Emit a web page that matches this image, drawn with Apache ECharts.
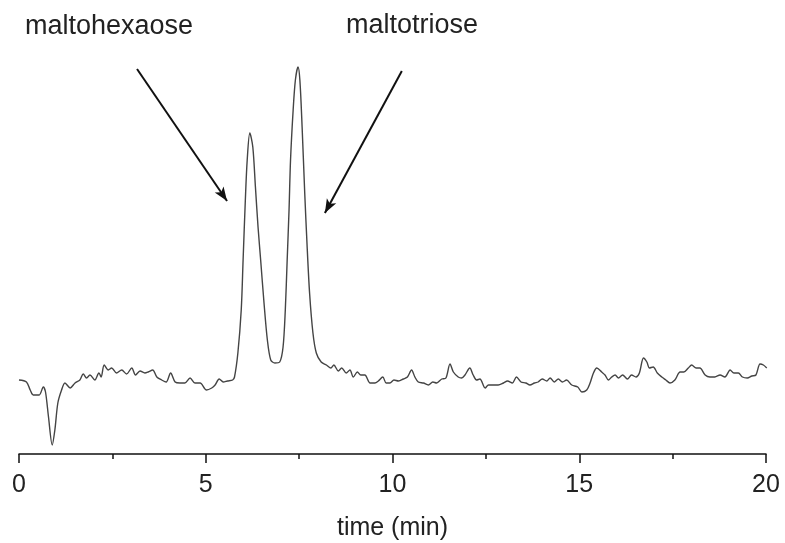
<!DOCTYPE html>
<html>
<head>
<meta charset="utf-8">
<script src="https://cdn.jsdelivr.net/npm/echarts@6/dist/echarts.min.js"></script>
<style>
  html, body { margin: 0; padding: 0; background: #fff; }
  #main { width: 785px; height: 543px; }
</style>
</head>
<body>
<div id="main"></div>
<script>
// retention time (min) and detector signal (arbitrary units)
var times = [
  0, 0.2, 0.3, 0.38, 0.54, 0.65, 0.71, 0.79, 0.89, 0.96, 1.04, 1.14, 1.23, 1.37, 1.5, 1.63,
  1.72, 1.81, 1.9, 2.03, 2.14, 2.2, 2.28, 2.39, 2.48, 2.61, 2.75, 2.88, 3.02, 3.12, 3.24, 3.37,
  3.46, 3.58, 3.69, 3.82, 3.94, 4.06, 4.18, 4.31, 4.44, 4.58, 4.71, 4.85, 5.02, 5.16, 5.25, 5.36,
  5.47, 5.58, 5.72, 5.77, 5.86, 5.95, 6.0, 6.06, 6.11, 6.18, 6.26, 6.33, 6.4, 6.47, 6.56, 6.65,
  6.74, 6.85, 6.98, 7.07, 7.13, 7.18, 7.23, 7.27, 7.34, 7.4, 7.47, 7.52, 7.58, 7.65, 7.71, 7.78,
  7.87, 7.96, 8.09, 8.23, 8.35, 8.43, 8.55, 8.64, 8.76, 8.86, 8.95, 9.06, 9.15, 9.26, 9.4, 9.53,
  9.62, 9.74, 9.83, 9.93, 10.04, 10.16, 10.29, 10.4, 10.51, 10.6, 10.69, 10.83, 10.96, 11.08, 11.18, 11.32,
  11.43, 11.54, 11.63, 11.76, 11.85, 11.94, 12.07, 12.16, 12.25, 12.34, 12.48, 12.57, 12.7, 12.83, 12.97, 13.08,
  13.21, 13.32, 13.44, 13.57, 13.68, 13.8, 13.9, 14.01, 14.13, 14.22, 14.33, 14.44, 14.55, 14.66, 14.8, 14.96,
  15.07, 15.2, 15.29, 15.38, 15.47, 15.6, 15.69, 15.78, 15.87, 15.96, 16.05, 16.16, 16.29, 16.4, 16.52, 16.61,
  16.72, 16.81, 16.88, 16.98, 17.09, 17.21, 17.32, 17.43, 17.56, 17.7, 17.8, 17.92, 18.01, 18.13, 18.23, 18.37,
  18.5, 18.63, 18.77, 18.9, 19.04, 19.14, 19.26, 19.37, 19.5, 19.62, 19.73, 19.84, 19.93, 20.02
];
var signal = [
  74, 72, 64, 59, 59, 67, 62, 37, 9, 24, 51, 64, 71, 66, 71, 74,
  80, 76, 79, 74, 81, 77, 89, 84, 86, 81, 84, 80, 86, 79, 83, 81,
  82, 84, 77, 74, 72, 81, 72, 71, 71, 76, 71, 71, 64, 66, 69, 75,
  72, 73, 74, 77, 101, 144, 194, 254, 294, 321, 307, 267, 227, 194, 151, 114,
  94, 91, 92, 107, 144, 194, 244, 294, 344, 374, 387, 374, 327, 261, 211, 161,
  121, 101, 92, 89, 86, 89, 83, 86, 81, 84, 77, 82, 79, 79, 71, 71,
  73, 77, 71, 71, 74, 73, 75, 77, 84, 77, 72, 71, 69, 72, 71, 75,
  76, 90, 82, 77, 76, 79, 86, 79, 74, 75, 66, 69, 69, 69, 71, 73,
  71, 77, 72, 71, 69, 71, 72, 75, 73, 76, 72, 75, 72, 74, 69, 67,
  62, 64, 71, 81, 86, 82, 79, 74, 77, 79, 76, 79, 75, 79, 77, 81,
  96, 92, 86, 87, 81, 77, 74, 71, 74, 82, 82, 86, 89, 86, 86, 79,
  77, 77, 79, 77, 84, 81, 81, 77, 76, 78, 79, 90, 89, 86
];

var xTicks = [0, 5, 10, 15, 20];

// annotation arrows: label, arrow start [t, v], arrow end [t, v]
var peakNames = ['maltohexaose', 'maltotriose'];
var arrowStarts = [[3.16, 385], [10.25, 383]];
var arrowEnds = [[5.57, 253], [8.19, 241]];

var traceData = times.map(function (t, i) { return [t, signal[i]]; });

var chart = echarts.init(document.getElementById('main'));
var font = 'Liberation Sans, Arial, sans-serif';

chart.setOption({
  animation: false,
  backgroundColor: '#fff',
  grid: { left: 19, right: 19, top: 54, bottom: 89, outerBoundsMode: 'none' },
  xAxis: {
    type: 'value',
    min: xTicks[0],
    max: xTicks[xTicks.length - 1],
    interval: 5,
    name: 'time (min)',
    nameLocation: 'middle',
    nameGap: 62,
    nameTextStyle: { fontFamily: font, fontSize: 25, color: '#222' },
    axisLine: { show: true, lineStyle: { color: '#111', width: 1.5 } },
    axisTick: { show: true, length: 9, lineStyle: { color: '#111', width: 1.5 } },
    minorTick: { show: true, splitNumber: 2, length: 5, lineStyle: { color: '#111', width: 1.5 } },
    axisLabel: { fontFamily: font, fontSize: 25, color: '#222', margin: 19 },
    splitLine: { show: false }
  },
  yAxis: {
    type: 'value',
    min: 0,
    max: 400,
    show: false
  },
  graphic: [
    { type: 'text', left: 25, top: 13, style: { text: peakNames[0], font: '27px ' + font, fill: '#222' } },
    { type: 'text', left: 346, top: 12, style: { text: peakNames[1], font: '27px ' + font, fill: '#222' } }
  ],
  series: [{
    type: 'line',
    data: traceData,
    showSymbol: false,
    smooth: 0.3,
    lineStyle: { color: '#444', width: 1.4 },
    markLine: {
      silent: true,
      symbol: ['none', 'arrow'],
      symbolSize: [8, 14],
      label: { show: false },
      lineStyle: { color: '#111', width: 2, type: 'solid' },
      data: arrowStarts.map(function (s, i) {
        return [{ coord: s }, { coord: arrowEnds[i] }];
      })
    }
  }]
});
</script>
</body>
</html>
